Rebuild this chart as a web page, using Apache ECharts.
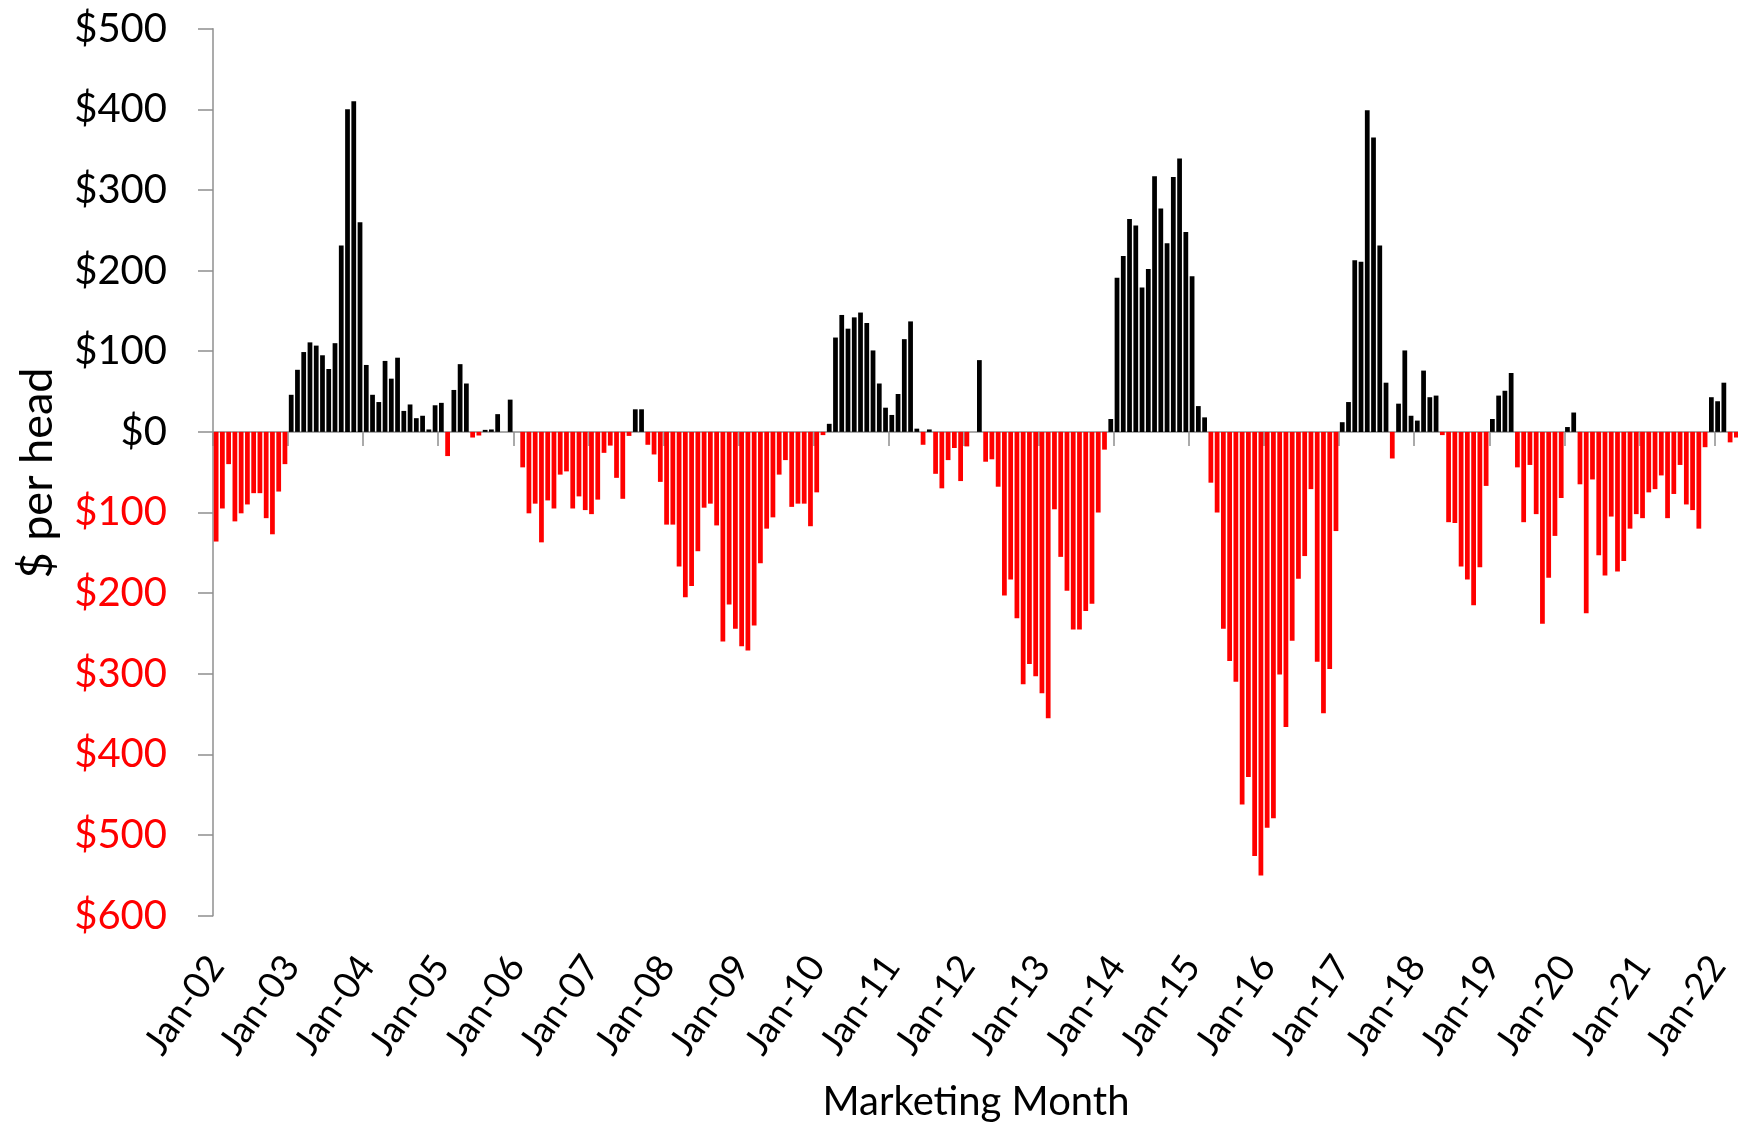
<!DOCTYPE html>
<html>
<head>
<meta charset="utf-8">
<title>$ per head by marketing month</title>
<script src="https://cdn.jsdelivr.net/npm/echarts@6.0.0/dist/echarts.min.js"></script>
<style>
  html, body { margin: 0; padding: 0; background: #ffffff; }
  #chart { width: 1738px; height: 1126px; }
</style>
</head>
<body>
<div id="chart"></div>
<script>
// Margin per head ($), one value per marketing month, Jan-02 through Apr-22
const monthNames = ['Jan', 'Feb', 'Mar', 'Apr', 'May', 'Jun', 'Jul', 'Aug', 'Sep', 'Oct', 'Nov', 'Dec'];
const firstYear = 2002;
const monthCount = 244;

const perHead = [
  // 2002
  -136, -95, -40, -111, -101, -90, -76, -76, -107, -127, -74, -40,
  // 2003
  46, 77, 99, 111, 107, 95, 78, 110, 231, 400, 410, 260,
  // 2004
  83, 46, 37, 88, 66, 92, 26, 34, 17, 20, 3, 33,
  // 2005
  36, -30, 52, 84, 60, -7, -4.5, 2.5, 3, 22, 0, 40,
  // 2006
  0, -44, -101, -89, -137, -85, -95, -53, -49, -95, -80, -97,
  // 2007
  -102, -84, -26, -17, -57, -83, -5, 28, 28, -16, -28, -62,
  // 2008
  -115, -115, -167, -205, -191, -148, -94, -89, -116, -260, -214, -244,
  // 2009
  -266, -271, -240, -163, -120, -106, -53, -35, -93, -89, -89, -117,
  // 2010
  -75, -4, 10, 117, 145, 128, 142, 148, 135, 101, 60, 30,
  // 2011
  21, 47, 115, 137, 4, -16, 3, -52, -70, -35, -20, -61,
  // 2012
  -18, 0, 89, -37, -34, -68, -203, -183, -231, -313, -288, -303,
  // 2013
  -324, -355, -96, -155, -197, -245, -245, -222, -213, -100, -22, 16,
  // 2014
  191, 218, 264, 256, 179, 202, 317, 277, 234, 316, 339, 248,
  // 2015
  193, 32, 18, -63, -100, -244, -284, -310, -462, -428, -526, -550,
  // 2016
  -491, -479, -301, -366, -259, -182, -154, -71, -285, -349, -294, -123,
  // 2017
  12, 37, 213, 211, 399, 365, 231, 61, -33, 35, 101, 20,
  // 2018
  14, 76, 43, 45, -4, -112, -113, -167, -183, -215, -168, -67,
  // 2019
  16, 45, 51, 73, -44, -112, -41, -102, -238, -181, -129, -82,
  // 2020
  6, 24, -65, -225, -59, -153, -178, -105, -173, -160, -120, -102,
  // 2021
  -107, -75, -71, -54, -107, -77, -41, -90, -97, -120, -19, 43,
  // 2022
  38, 61, -13, -7
];

// Category labels in the "Mon-YY" form
const months = [];
for (let i = 0; i < monthCount; i++) {
  const yy = String((firstYear + Math.floor(i / 12)) % 100).padStart(2, '0');
  months.push(monthNames[i % 12] + '-' + yy);
}

// Value axis range and step
const yMin = -600;
const yMax = 500;
const yStep = 100;

// Axis titles
const xTitle = 'Marketing Month';
const yTitle = '$ per head';

const FONT = 'Lato, "Open Sans", sans-serif';
const AXIS_GREY = '#8f8f8f';
const GAIN = '#000000';
const LOSS = '#ff0000';

const chart = echarts.init(document.getElementById('chart'), null, { renderer: 'canvas' });

chart.setOption({
  animation: false,
  backgroundColor: '#ffffff',
  grid: {
    left: 213, right: -1.5, top: 28.7, bottom: 210.3,
    containLabel: false,
    outerBoundsMode: 'none'
  },
  xAxis: [
    {
      // axis drawn along the $0 line, with a tick at every year boundary
      type: 'category',
      data: months,
      boundaryGap: true,
      axisLine: { show: true, onZero: true, lineStyle: { color: AXIS_GREY, width: 1.5 } },
      axisTick: { show: true, interval: 11, length: 14, lineStyle: { color: AXIS_GREY, width: 1.5 } },
      axisLabel: { show: false },
      splitLine: { show: false }
    },
    {
      // year labels along the bottom of the plot
      type: 'category',
      data: months,
      position: 'bottom',
      boundaryGap: true,
      axisLine: { show: false, onZero: false },
      axisTick: { show: false },
      axisLabel: {
        interval: 11,
        rotate: 55,
        margin: 44,
        fontSize: 37,
        fontFamily: FONT,
        color: '#000000'
      },
      splitLine: { show: false }
    }
  ],
  yAxis: {
    type: 'value',
    min: yMin,
    max: yMax,
    interval: yStep,
    axisLine: { show: true, lineStyle: { color: AXIS_GREY, width: 1.5 } },
    axisTick: { show: true, length: 15, lineStyle: { color: AXIS_GREY, width: 1.5 } },
    splitLine: { show: false },
    axisLabel: {
      margin: 46,
      fontSize: 40,
      fontFamily: FONT,
      formatter: function (v) { return '$' + Math.abs(v); },
      color: function (v) { return Number(v) < 0 ? LOSS : '#000000'; }
    }
  },
  graphic: [
    {
      type: 'text',
      x: 976,
      y: 1102,
      style: {
        text: xTitle,
        font: '40px ' + FONT,
        fill: '#000000',
        textAlign: 'center',
        textVerticalAlign: 'middle'
      }
    },
    {
      type: 'text',
      x: 37,
      y: 473,
      rotation: Math.PI / 2,
      style: {
        text: yTitle,
        font: '45px ' + FONT,
        fill: '#000000',
        textAlign: 'center',
        textVerticalAlign: 'middle'
      }
    }
  ],
  series: [
    {
      type: 'bar',
      xAxisIndex: 0,
      barCategoryGap: '24%',
      data: perHead.map(function (v) {
        return { value: v, itemStyle: { color: v < 0 ? LOSS : GAIN } };
      })
    }
  ]
});
</script>
</body>
</html>
